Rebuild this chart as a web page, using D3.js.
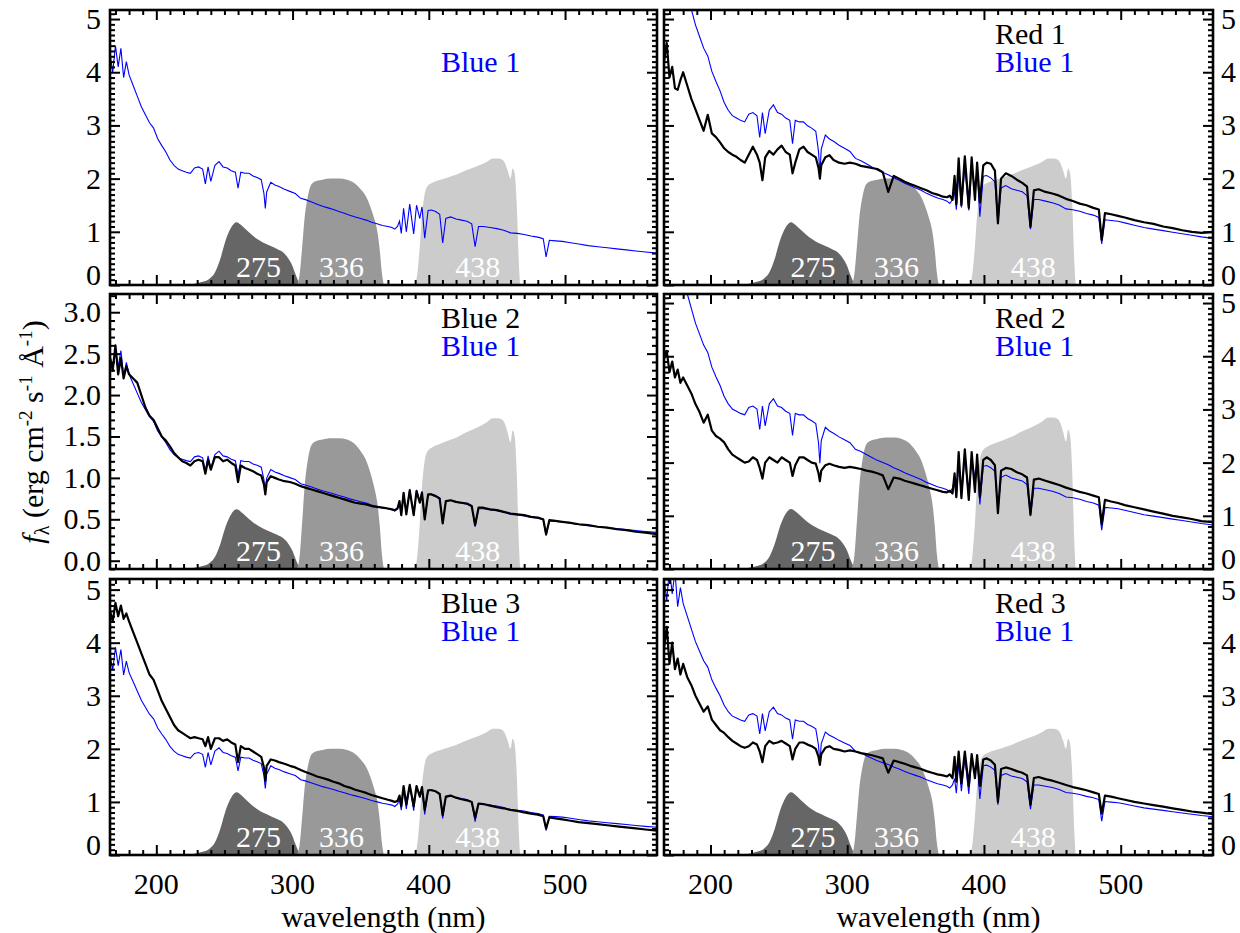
<!DOCTYPE html>
<html><head><meta charset="utf-8">
<script src="https://cdn.jsdelivr.net/npm/d3@7"></script>
</head><body style="margin:0">
<svg id="chart" width="1240" height="933" style="font-family: serif"></svg>
<script>
// ---------------- data ----------------
const wavelength = [
166,168,170,172,174,176,178,180,183,186,
189,192,195,198,201,204,207,210,213,216,
219,222,225,228,231,234,236,238,240,243,
246,249,252,255,258,260,262,265,268,271,
274,277,279,280,281,284,287,290,294,298,
302,306,310,314,318,322,326,330,334,338,
342,346,350,354,358,362,366,370,373,375,
377,378.5,379.8,381.5,383.5,386,388.9,391,393.4,395,
397,399.5,402,405,408,410.2,412.5,416,420,424,
428,431.5,434,436.5,440,445,450,455,460,465,
470,475,480,484,486.1,488.5,493,498,503,510,
517,524,531,538,545,552,559,567.5];

const blue1 = [
4.35,4.0,4.5,4.1,4.45,3.9,4.2,3.95,3.75,3.55,
3.35,3.2,3.05,2.95,2.75,2.62,2.5,2.35,2.25,2.18,
2.15,2.12,2.1,2.2,2.22,2.18,1.9,2.22,1.95,2.25,
2.32,2.22,2.2,2.15,2.12,1.82,2.12,2.1,2.1,2.05,
2.02,1.98,1.72,1.44,1.75,1.93,1.88,1.85,1.8,1.76,
1.72,1.63,1.6,1.56,1.52,1.48,1.45,1.42,1.38,1.35,
1.31,1.28,1.25,1.22,1.18,1.15,1.12,1.1,1.08,1.05,
1.1,1.2,0.97,1.44,1.0,1.52,0.96,1.5,1.25,1.47,
0.88,1.4,1.41,1.38,1.33,0.79,1.25,1.28,1.24,1.22,
1.2,1.15,0.72,1.1,1.1,1.08,1.06,1.03,0.98,0.97,
0.95,0.92,0.9,0.87,0.53,0.84,0.83,0.82,0.8,0.77,
0.74,0.72,0.7,0.68,0.66,0.64,0.62,0.6];

const blue2 = [
2.45,2.3,2.6,2.25,2.45,2.2,2.35,2.25,2.2,2.15,
2.0,1.85,1.75,1.7,1.6,1.5,1.45,1.38,1.3,1.25,
1.2,1.18,1.15,1.2,1.22,1.2,1.05,1.22,1.1,1.25,
1.25,1.2,1.22,1.18,1.15,0.95,1.15,1.12,1.1,1.08,
1.05,1.03,0.92,0.8,0.95,1.02,1.0,0.98,0.96,0.95,
0.93,0.9,0.88,0.86,0.84,0.82,0.8,0.78,0.76,0.74,
0.72,0.7,0.69,0.68,0.66,0.65,0.64,0.63,0.62,0.61,
0.63,0.72,0.55,0.82,0.56,0.85,0.55,0.84,0.7,0.82,
0.5,0.8,0.8,0.78,0.75,0.45,0.72,0.73,0.71,0.7,
0.69,0.66,0.43,0.64,0.64,0.62,0.61,0.59,0.57,0.56,
0.55,0.53,0.52,0.5,0.32,0.49,0.48,0.47,0.46,0.44,
0.43,0.41,0.4,0.38,0.37,0.35,0.34,0.32];

const blue3 = [
4.6,4.4,4.75,4.5,4.7,4.45,4.55,4.4,4.2,4.0,
3.8,3.6,3.4,3.3,3.1,2.9,2.75,2.6,2.45,2.35,
2.3,2.25,2.2,2.22,2.2,2.18,2.05,2.22,2.0,2.2,
2.2,2.15,2.18,2.12,2.08,1.75,2.05,2.0,2.0,1.95,
1.9,1.85,1.65,1.4,1.68,1.8,1.78,1.75,1.72,1.68,
1.65,1.6,1.56,1.52,1.48,1.45,1.42,1.38,1.35,1.3,
1.27,1.23,1.2,1.17,1.13,1.1,1.07,1.04,1.02,1.0,
1.02,1.12,0.92,1.3,0.95,1.32,0.92,1.3,1.1,1.28,
0.85,1.22,1.22,1.2,1.15,0.75,1.1,1.12,1.08,1.05,
1.03,1.0,0.7,0.97,0.96,0.93,0.9,0.88,0.85,0.83,
0.8,0.78,0.76,0.73,0.5,0.71,0.69,0.67,0.65,0.62,
0.6,0.58,0.56,0.54,0.52,0.5,0.48,0.46];

const red1 = [
4.2,4.55,3.9,4.1,3.7,3.67,3.85,4.0,3.75,3.5,
3.3,3.1,2.9,3.2,2.85,2.78,2.68,2.57,2.5,2.45,
2.41,2.35,2.3,2.45,2.6,2.45,2.3,1.97,2.4,2.52,
2.45,2.55,2.62,2.5,2.45,2.1,2.3,2.55,2.6,2.5,
2.45,2.4,2.2,2.0,2.25,2.4,2.44,2.35,2.3,2.28,
2.3,2.28,2.24,2.22,2.2,2.18,2.12,1.75,2.05,2.0,
1.94,1.9,1.86,1.82,1.78,1.73,1.7,1.66,1.65,1.68,
1.6,2.05,1.52,2.38,1.5,2.42,1.45,2.4,1.6,2.3,
1.55,2.25,2.3,2.28,2.15,1.16,2.0,2.1,2.05,1.98,
1.92,1.85,1.09,1.78,1.8,1.75,1.72,1.68,1.62,1.58,
1.53,1.5,1.45,1.42,0.85,1.35,1.33,1.3,1.27,1.22,
1.18,1.15,1.1,1.07,1.03,1.0,0.98,1.0];

const red2 = [
3.95,4.1,3.7,3.9,3.6,3.75,3.5,3.6,3.45,3.3,
3.1,2.95,2.75,2.9,2.6,2.5,2.45,2.38,2.25,2.15,
2.1,2.05,2.0,2.02,2.1,2.05,1.9,1.7,2.0,2.1,
2.05,2.0,2.1,2.05,2.0,1.75,1.95,2.1,2.1,2.05,
2.0,1.98,1.8,1.65,1.85,1.95,1.98,1.95,1.92,1.9,
1.92,1.9,1.88,1.85,1.83,1.8,1.76,1.5,1.72,1.7,
1.66,1.63,1.6,1.57,1.54,1.51,1.48,1.45,1.44,1.47,
1.42,1.8,1.35,2.2,1.33,2.25,1.3,2.2,1.45,2.15,
1.35,2.05,2.1,2.05,1.95,1.05,1.85,1.9,1.88,1.82,
1.78,1.72,1.02,1.68,1.7,1.66,1.62,1.58,1.53,1.49,
1.45,1.42,1.38,1.35,0.85,1.3,1.27,1.24,1.2,1.16,
1.12,1.08,1.04,1.0,0.97,0.94,0.9,0.88];

const red3 = [
3.9,4.3,3.6,4.0,3.5,3.7,3.4,3.6,3.35,3.2,
3.0,2.85,2.7,2.8,2.55,2.45,2.35,2.3,2.22,2.15,
2.1,2.05,2.02,2.05,2.12,2.08,1.95,1.75,2.05,2.15,
2.1,2.12,2.15,2.1,2.05,1.8,2.0,2.12,2.12,2.08,
2.05,2.0,1.85,1.7,1.9,2.02,2.05,2.0,1.98,1.95,
1.97,1.95,1.92,1.9,1.88,1.85,1.82,1.55,1.78,1.75,
1.72,1.68,1.65,1.62,1.58,1.55,1.52,1.5,1.48,1.52,
1.45,1.85,1.38,1.95,1.35,1.95,1.3,1.9,1.45,1.88,
1.3,1.8,1.82,1.78,1.7,1.0,1.62,1.65,1.62,1.58,
1.55,1.5,0.95,1.45,1.47,1.43,1.4,1.36,1.32,1.28,
1.25,1.22,1.18,1.15,0.78,1.12,1.1,1.07,1.04,1.0,
0.97,0.94,0.91,0.88,0.85,0.82,0.8,0.77];

// filter throughput curves (relative, peak = 1)
const f275Wave = [222,228,234,239,243,247,251,255,259,262,266,270,275,279,284,289,293,297,300,302,304,305.5];
const f275Thru = [0,0.02,0.05,0.1,0.2,0.42,0.72,0.92,1.0,0.96,0.88,0.8,0.72,0.67,0.62,0.57,0.52,0.42,0.3,0.18,0.07,0];
const f336Wave = [303,305,307,309,311,314,318,322,328,334,340,345,350,354,357,360,362,364,365.5,367];
const f336Thru = [0,0.08,0.35,0.65,0.82,0.95,0.98,0.99,1.0,1.0,0.99,0.96,0.9,0.83,0.74,0.62,0.52,0.33,0.12,0];
const f438Wave = [389,391,393,395,397,399,403,408,414,420,425,431,437,442,447,451,454,456,458,460,461.5,463,464.5,466,467];
const f438Thru = [0,0.05,0.25,0.55,0.72,0.78,0.81,0.83,0.85,0.87,0.895,0.92,0.945,0.97,1.0,1.0,0.99,0.96,0.9,0.84,0.92,0.88,0.65,0.2,0];
const filterNames = ["275","336","438"];
const filterLabelWave = [275,336,436];
const filterColors = ["#666666","#999999","#cccccc"];

const xTickValues = [200,300,400,500];
const yTicksFull = [0,1,2,3,4,5];
const yTicksMid = [0,0.5,1,1.5,2,2.5,3];

// per-panel content
const panelSpectra = [null, red1, blue2, red2, blue3, red3];
const panelNames = [null, "Red 1", "Blue 2", "Red 2", "Blue 3", "Red 3"];
const blueScale = [1, 1.46, 0.57, 1.38, 0.87, 1.2];
const panelYDomain = [[0,5.17],[0,5.17],[-0.1,3.22],[0,5.17],[0,5.2],[0,5.2]];
const filterPeaks = [[1.18,2.0,2.38],[1.18,2.0,2.38],[0.62,1.48,1.72],[1.13,2.47,2.85],[1.18,2.0,2.38],[1.18,2.0,2.38]];

// ---------------- layout ----------------
const FONT = "serif";
const svg = d3.select("#chart");
const colX = [[110,657],[664,1213]];
const rowY = [[10,285],[294,569],[579,855]];
const xDomain = [166,567.5];

const filters = [
  {w:f275Wave, t:f275Thru},
  {w:f336Wave, t:f336Thru},
  {w:f438Wave, t:f438Thru}
];

const textJobs = [];
function addText(x, y, str, opts) { textJobs.push(Object.assign({x, y, str}, opts || {})); }

for (let p = 0; p < 6; p++) {
  const col = p % 2, row = Math.floor(p / 2);
  const [x0, x1] = colX[col], [y0, y1] = rowY[row];
  const x = d3.scaleLinear().domain(xDomain).range([x0, x1]);
  const y = d3.scaleLinear().domain(panelYDomain[p]).range([y1, y0]);
  const g = svg.append("g");
  const clipId = "clip" + p;
  svg.append("clipPath").attr("id", clipId).append("rect")
    .attr("x", x0).attr("y", y0).attr("width", x1 - x0).attr("height", y1 - y0);
  const plot = g.append("g").attr("clip-path", `url(#${clipId})`);

  // filters
  const base = panelYDomain[p][0];
  filters.forEach((f, i) => {
    const pts = f.w.map((w, k) => [w, base + f.t[k] * (filterPeaks[p][i] - base)]);
    const area = d3.area().x(d => x(d[0])).y0(y(base)).y1(d => y(d[1])).curve(d3.curveMonotoneX);
    plot.append("path").datum(pts).attr("d", area).attr("fill", filterColors[i]);
    addText(x(filterLabelWave[i]), y1 - 8, filterNames[i], {anchor: "middle", fill: "#fff"});
  });

  // spectra
  const line = d3.line().x(d => x(d[0])).y(d => y(d[1]));
  const bluePts = wavelength.map((w, k) => [w, blue1[k] * blueScale[p]]);
  plot.append("path").datum(bluePts).attr("d", line)
    .attr("fill", "none").attr("stroke", "#0000ff").attr("stroke-width", 1.1);
  if (panelSpectra[p]) {
    const pts = wavelength.map((w, k) => [w, panelSpectra[p][k]]);
    plot.append("path").datum(pts).attr("d", line)
      .attr("fill", "none").attr("stroke", "#000").attr("stroke-width", 2.2)
      .attr("stroke-linejoin", "round");
  }

  // legend text
  const lx = x0 + 331;
  if (panelNames[p]) addText(lx, y0 + 34, panelNames[p], {fill: "#000"});
  addText(lx, y0 + 62, "Blue 1", {fill: "#0000ff"});

  // axes (inward ticks)
  const ax = g.append("g");
  const minorX = d3.range(170, 567, 10).filter(v => !xTickValues.includes(v));
  const yt = p === 2 ? yTicksMid : yTicksFull;
  const minorY = d3.range(Math.ceil(panelYDomain[p][0] * 10), Math.floor(panelYDomain[p][1] * 10) + 1)
    .map(v => v / 10).filter(v => !yt.some(t => Math.abs(t - v) < 1e-6));
  const axes = [
    [d3.axisBottom(x).tickValues(xTickValues), `translate(0,${y1})`, 10],
    [d3.axisBottom(x).tickValues(minorX), `translate(0,${y1})`, 5],
    [d3.axisTop(x).tickValues(xTickValues), `translate(0,${y0})`, 10],
    [d3.axisTop(x).tickValues(minorX), `translate(0,${y0})`, 5],
    [d3.axisLeft(y).tickValues(yt), `translate(${x0},0)`, 10],
    [d3.axisLeft(y).tickValues(minorY), `translate(${x0},0)`, 5],
    [d3.axisRight(y).tickValues(yt), `translate(${x1},0)`, 10],
    [d3.axisRight(y).tickValues(minorY), `translate(${x1},0)`, 5]
  ];
  axes.forEach(([a, tr, len]) => {
    const ag = ax.append("g").attr("transform", tr)
      .call(a.tickSize(-len).tickFormat(""));
    ag.select(".domain").remove();
    ag.selectAll("text").remove();
    ag.attr("font-family", null).attr("font-size", null);
    ag.selectAll("line").attr("stroke", "#000").attr("stroke-width", 2);
  });
  g.append("rect").attr("x", x0).attr("y", y0).attr("width", x1 - x0).attr("height", y1 - y0)
    .attr("fill", "none").attr("stroke", "#000").attr("stroke-width", 2.6);

  // y tick labels
  const fmt = p === 2 ? d3.format(".1f") : d3.format("d");
  yt.forEach(v => {
    let ty = y(v) + 10;
    if (y(v) > y1 - 3) ty -= 10;
    addText(col === 0 ? x0 - 9 : x1 + 8, ty, fmt(v), {anchor: col === 0 ? "end" : "start"});
  });

  // x tick labels (bottom row)
  if (row === 2) {
    xTickValues.forEach(v => addText(x(v), 894, String(v), {anchor: "middle"}));
    addText((x0 + x1) / 2, 927, "wavelength (nm)", {anchor: "middle"});
  }
}

// draw all texts directly on the svg root
textJobs.forEach(d => {
  svg.append("text")
    .attr("x", d.x).attr("y", d.y)
    .attr("text-anchor", d.anchor || "start")
    .attr("fill", d.fill || "#000")
    .attr("font-family", FONT)
    .attr("font-size", 30)
    .style("font-family", FONT, "important")
    .text(d.str);
});

// y axis title
const t = svg.append("text").attr("transform", "translate(43,432) rotate(-90)")
  .attr("text-anchor", "middle").attr("font-size", 30).attr("font-family", FONT)
  .style("font-family", FONT, "important");
t.append("tspan").attr("font-style", "italic").text("f");
t.append("tspan").attr("dy", 6).attr("font-size", 20).text("λ");
t.append("tspan").attr("dy", -6).text(" (erg cm");
t.append("tspan").attr("dy", -11).attr("font-size", 19).text("-2");
t.append("tspan").attr("dy", 11).text(" s");
t.append("tspan").attr("dy", -11).attr("font-size", 19).text("-1");
t.append("tspan").attr("dy", 11).text(" Å");
t.append("tspan").attr("dy", -11).attr("font-size", 19).text("-1");
t.append("tspan").attr("dy", 11).text(")");
</script>
</body></html>
